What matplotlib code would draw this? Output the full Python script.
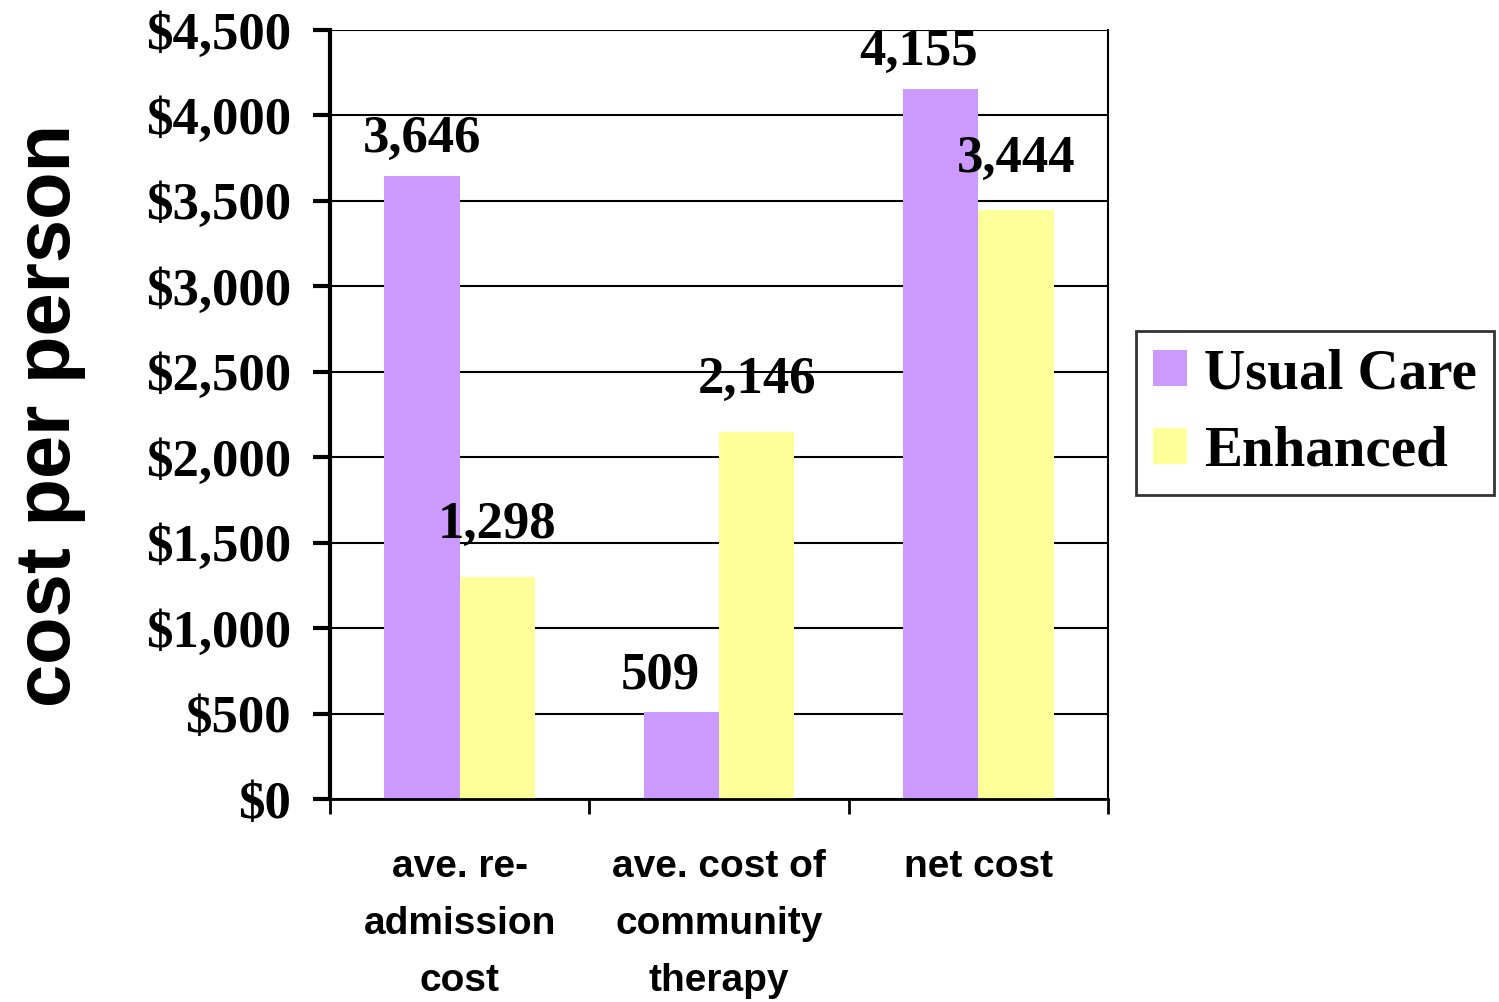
import matplotlib.pyplot as plt
import numpy as np

# data
categories = ["ave. re-\nadmission\ncost", "ave. cost of\ncommunity\ntherapy", "net cost"]
usual_care = [3646, 509, 4155]
enhanced = [1298, 2146, 3444]
series_names = ["Usual Care", "Enhanced"]
y_ticks = [0, 500, 1000, 1500, 2000, 2500, 3000, 3500, 4000, 4500]

purple = "#CC99FF"
yellow = "#FFFF99"
serif = ["Liberation Serif", "DejaVu Serif"]
sans = ["Liberation Sans", "DejaVu Sans"]

fig = plt.figure(figsize=(14.99, 10.02), dpi=100)
ax = fig.add_axes([330/1499, 1-799/1002, 778/1499, 769/1002])

x = np.arange(len(categories))
w = 0.29
b1 = ax.bar(x - w/2, usual_care, w, color=purple, label=series_names[0], zorder=2)
b2 = ax.bar(x + w/2, enhanced, w, color=yellow, label=series_names[1], zorder=2)

# data labels (excel nudged a couple of them left)
dx1 = [0, -15, -16]
for xi, v, d in zip(x - w/2, usual_care, dx1):
    ax.annotate(f"{v:,}", (xi, v), xytext=(d, 17), textcoords="offset points",
                ha="center", va="baseline", fontsize=38, fontweight="bold", family=serif)
for xi, v in zip(x + w/2, enhanced):
    ax.annotate(f"{v:,}", (xi, v), xytext=(0, 28), textcoords="offset points",
                ha="center", va="baseline", fontsize=38, fontweight="bold", family=serif)

ax.set_xlim(-0.5, len(categories) - 0.5)
ax.set_ylim(0, 4500)
ax.set_yticks(y_ticks)
ax.set_yticklabels([f"${t:,}" for t in y_ticks], fontsize=38, fontweight="bold", family=serif)
ax.yaxis.grid(True, color="black", linewidth=1.5, zorder=1)
ax.set_axisbelow(True)
ax.tick_params(axis="y", direction="out", length=12, width=3, pad=16)

ax.set_xticks(x)
ax.set_xticklabels(categories, fontsize=28, fontweight="bold", family=sans, linespacing=1.75)
ax.set_xticks(np.arange(-0.5, len(categories)), minor=True)
ax.tick_params(axis="x", which="major", length=0, pad=36)
ax.tick_params(axis="x", which="minor", direction="out", length=11, width=2)

ax.spines["top"].set_visible(False)
ax.spines["left"].set_linewidth(3)
ax.spines["bottom"].set_linewidth(2)
ax.spines["right"].set_linewidth(1.5)

fig.text(50/1499, 1-415/1002, "cost per person", rotation=90, ha="center", va="center",
         fontsize=56, fontweight="bold", family=sans)

leg = ax.legend(loc="center left", bbox_to_anchor=(1136/1499, 1-413/1002),
                bbox_transform=fig.transFigure, frameon=True, fancybox=False,
                prop={"family": serif, "weight": "bold", "size": 41},
                handlelength=0.6, handleheight=0.6, handletextpad=0.3,
                labelspacing=0.45, borderpad=0.3, borderaxespad=0)
leg.get_frame().set_edgecolor("black")
leg.get_frame().set_linewidth(2)

fig.savefig("out.png", dpi=100)
